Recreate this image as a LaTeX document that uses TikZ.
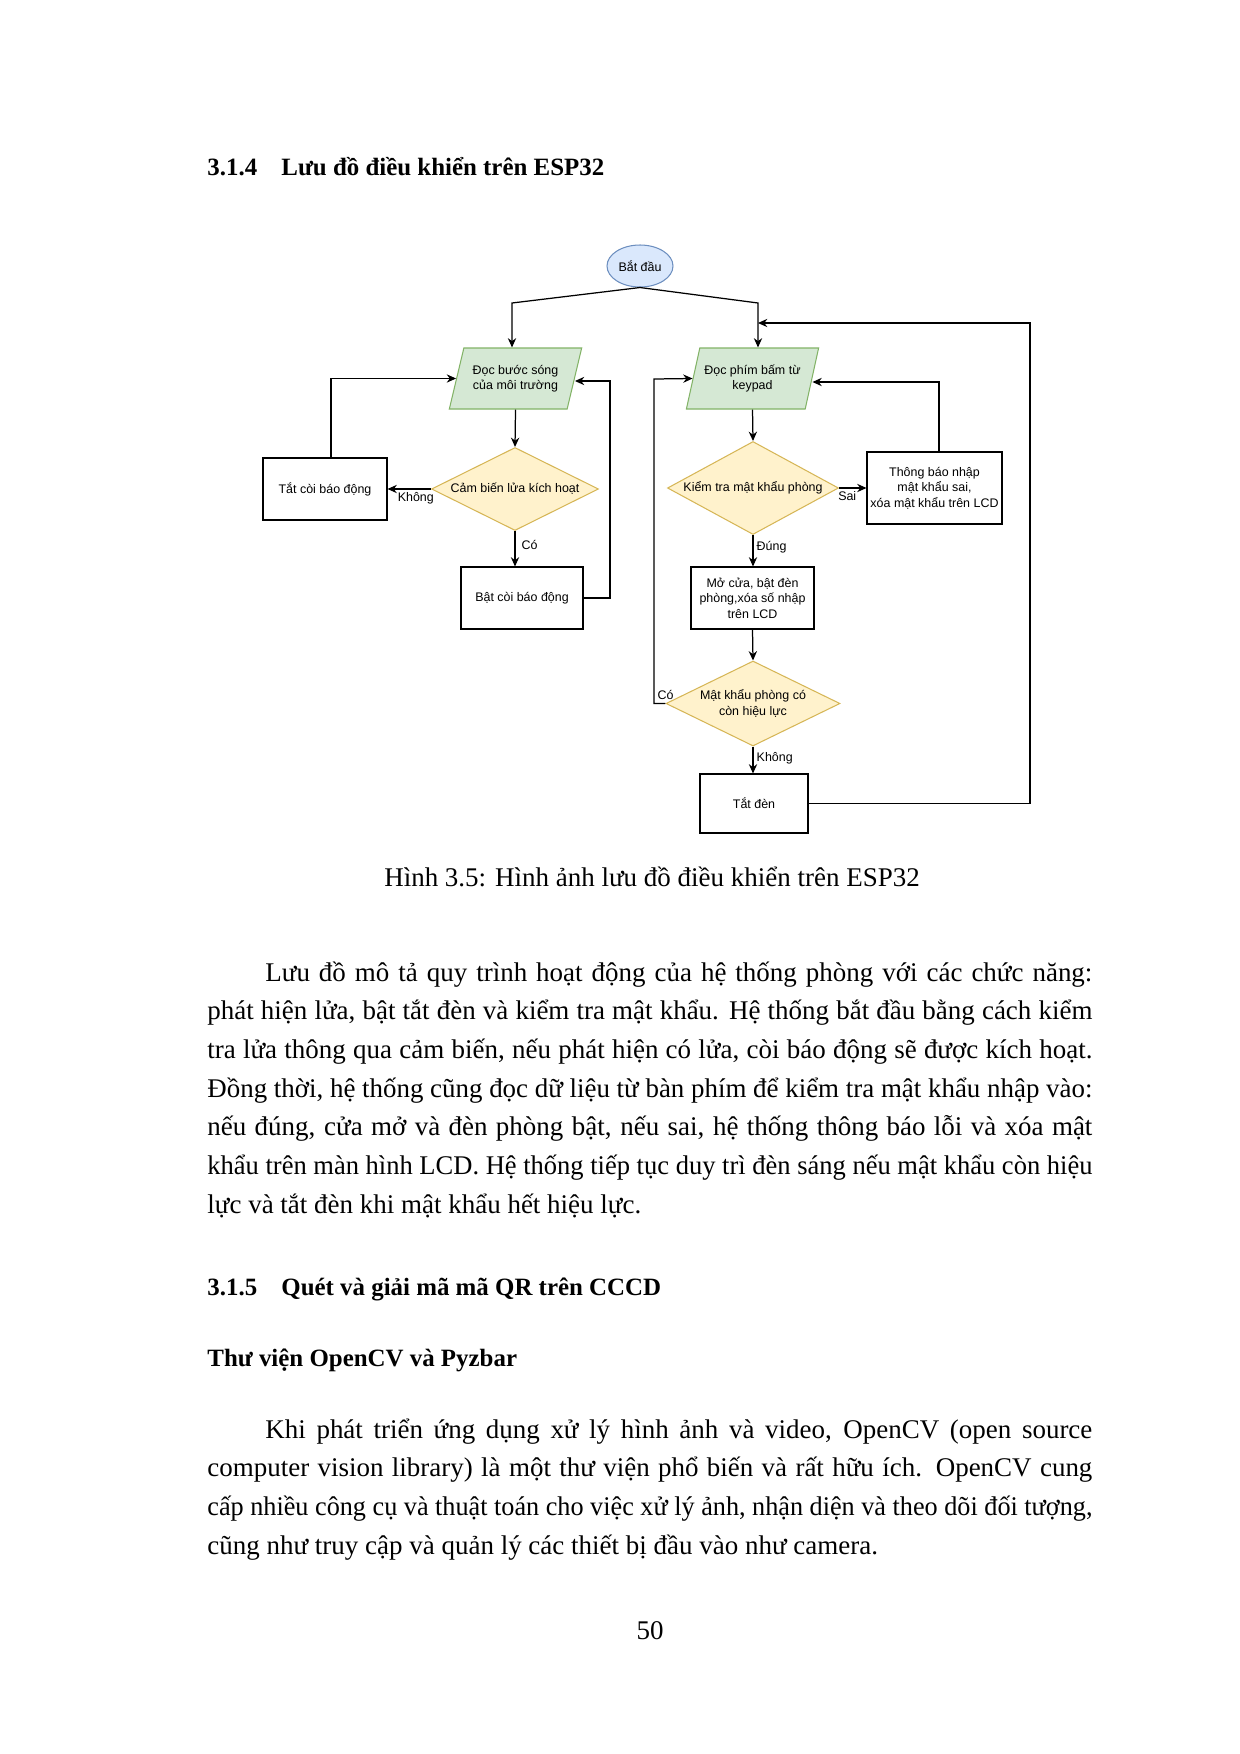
\documentclass[tikz,border=0pt]{standalone}
\usepackage{fontspec}
\usepackage{graphicx}
\setmainfont{Liberation Serif}
\newfontfamily\flowfont{Liberation Sans}
\usetikzlibrary{shapes.geometric,arrows.meta,positioning}
\definecolor{StartFill}{HTML}{DAE8FC}
\definecolor{StartLine}{HTML}{6C8EBF}
\definecolor{IoFill}{HTML}{D5E8D4}
\definecolor{IoLine}{HTML}{82B366}
\definecolor{AskFill}{HTML}{FFF2CC}
\definecolor{AskLine}{HTML}{D6B656}
\newlength\pxu
\setlength\pxu{0.16935mm}
\newsavebox\linebox
\newcommand\jline[2]{\sbox\linebox{#2}%
  \ifdim\wd\linebox>#1\pxu\resizebox{#1\pxu}{\ht\linebox}{\usebox\linebox}%
  \else\makebox[#1\pxu][s]{#2}\fi}

\begin{document}
\begin{tikzpicture}[x=0.16935mm,y=-0.16935mm,>={Stealth[length=4.5pt,width=4pt]},
  flow/.style={font=\flowfont\fontsize{6}{7.4}\selectfont,align=center,inner sep=0pt,line width=0.5pt},
  startbox/.style={flow,ellipse,draw=StartLine,fill=StartFill,minimum width=66\pxu,minimum height=42\pxu},
  iobox/.style={flow,trapezium,trapezium left angle=66,trapezium right angle=114,
    trapezium stretches=true,draw=IoLine,fill=IoFill,minimum width=133\pxu,minimum height=61\pxu},
  askbox/.style={flow,diamond,draw=AskLine,fill=AskFill},
  actbox/.style={flow,rectangle,draw=black},
  link/.style={->,line width=0.6pt},
  lbl/.style={font=\flowfont\fontsize{6}{7.4}\selectfont,inner sep=1.5pt},
  body/.style={anchor=base west,inner sep=0pt,font=\fontsize{13}{15}\selectfont},
  head/.style={anchor=base west,inner sep=0pt,font=\bfseries\fontsize{12}{15}\selectfont}]
  \useasboundingbox[fill=white] (0,0) rectangle (1240,1754);

  \node[head] (h1) at (207,175) {\makebox[74\pxu][l]{3.1.4}Lưu đồ điều khiển trên ESP32};

  % luu do
  \node[startbox] (start) at (640,266) {Bắt đầu};
  \node[iobox] (read) at (515.5,378.5) {Đọc bước sóng\\của môi trường};
  \node[iobox] (kp) at (752.5,378.5) {Đọc phím bấm từ\\keypad};
  \node[askbox,aspect=2,minimum width=167\pxu,minimum height=83\pxu] (fire) at (515,489) {Cảm biến lửa kích hoạt};
  \node[actbox,minimum width=124\pxu,minimum height=62\pxu] (alarmoff) at (325,489) {Tắt còi báo động};
  \node[actbox,minimum width=122\pxu,minimum height=62\pxu] (alarmon) at (522,598) {Bật còi báo động};
  \node[askbox,aspect=1.85,minimum width=171\pxu,minimum height=93\pxu] (check) at (753,488) {Kiểm tra mật khẩu phòng};
  \node[actbox,minimum width=135\pxu,minimum height=72\pxu] (wrong) at (934.5,488) {Thông báo nhập\\mật khẩu sai,\\xóa mật khẩu trên LCD};
  \node[actbox,minimum width=123\pxu,minimum height=62\pxu] (open) at (752.5,598) {Mở cửa, bật đèn\\phòng,xóa số nhập\\trên LCD};
  \node[askbox,aspect=2.05,minimum width=174\pxu,minimum height=85\pxu] (valid) at (753,703.5) {Mật khẩu phòng có\\còn hiệu lực};
  \node[actbox,minimum width=108\pxu,minimum height=59\pxu] (off) at (754,803.5) {Tắt đèn};

  \coordinate (jl) at (512,303);
  \coordinate (jr) at (758,303);
  \coordinate (rb) at (1030,323);
  \coordinate (rf) at (610,381);
  \coordinate (lc) at (654,379);
  \coordinate (wt) at (939,382);

  \draw[link] (start.south) -- (jl) -- (jl |- read.north);
  \draw[link] (start.south) -- (jr) -- (jr |- kp.north);
  \draw[link] (read.south) -- (fire.north);
  \draw[link] (fire.west) -- (alarmoff.east) node[lbl,below,pos=0.35] {Không};
  \draw[link] (fire.south) -- (fire.south |- alarmon.north) node[lbl,right,pos=0.4,xshift=3\pxu] {Có};
  \draw[link] ([xshift=6\pxu]alarmoff.north) |- (read.west);
  \draw[link] (alarmon.east) -| (rf) -- (rf -| read.east);
  \draw[link] (kp.south) -- (check.north);
  \draw[link] (check.east) -- (wrong.west) node[lbl,below,pos=0.3] {Sai};
  \draw[link] (wrong.north -| wt) -- (wt) -- (wt -| kp.east);
  \draw[link] (check.south) -- (check.south |- open.north) node[lbl,right,pos=0.4] {Đúng};
  \draw[link] (open.south) -- (valid.north);
  \draw[link] (valid.west) -| (lc) node[lbl,pos=0.5,above right] {Có} -- (kp.west);
  \draw[link] (valid.south) -- (valid.south |- off.north) node[lbl,right,pos=0.45] {Không};
  \draw[link] (off.east) -| (rb) -- (jr |- rb);

  \node[anchor=base,inner sep=0pt,font=\fontsize{13}{15}\selectfont] (cap) at (652,886)
    {Hình 3.5: Hình ảnh lưu đồ điều khiển trên ESP32};

  % doan van
  \node[body] (p1a) at (265,981) {\jline{827}{Lưu đồ mô tả quy trình hoạt động của hệ thống phòng với các chức năng:}};
  \node[body] (p1b) at (207,1019.7) {\jline{885}{phát hiện lửa, bật tắt đèn và kiểm tra mật khẩu. Hệ thống bắt đầu bằng cách kiểm}};
  \node[body] (p1c) at (207,1058.4) {\jline{885}{tra lửa thông qua cảm biến, nếu phát hiện có lửa, còi báo động sẽ được kích hoạt.}};
  \node[body] (p1d) at (207,1097.1) {\jline{885}{Đồng thời, hệ thống cũng đọc dữ liệu từ bàn phím để kiểm tra mật khẩu nhập vào:}};
  \node[body] (p1e) at (207,1135.8) {\jline{885}{nếu đúng, cửa mở và đèn phòng bật, nếu sai, hệ thống thông báo lỗi và xóa mật}};
  \node[body] (p1f) at (207,1174.5) {\jline{885}{khẩu trên màn hình LCD. Hệ thống tiếp tục duy trì đèn sáng nếu mật khẩu còn hiệu}};
  \node[body] (p1g) at (207,1213.2) {lực và tắt đèn khi mật khẩu hết hiệu lực.};

  \node[head] (h2) at (207,1295) {\makebox[74\pxu][l]{3.1.5}Quét và giải mã mã QR trên CCCD};
  \node[head] (h3) at (207,1366) {Thư viện OpenCV và Pyzbar};

  \node[body] (p2a) at (265,1438) {\jline{827}{Khi phát triển ứng dụng xử lý hình ảnh và video, OpenCV (open source}};
  \node[body] (p2b) at (207,1476.7) {\jline{885}{computer vision library) là một thư viện phổ biến và rất hữu ích. OpenCV cung}};
  \node[body] (p2c) at (207,1515.4) {\jline{885}{cấp nhiều công cụ và thuật toán cho việc xử lý ảnh, nhận diện và theo dõi đối tượng,}};
  \node[body] (p2d) at (207,1554.1) {cũng như truy cập và quản lý các thiết bị đầu vào như camera.};

  \node[anchor=base,inner sep=0pt,font=\fontsize{13}{15}\selectfont] (pg) at (650,1639) {50};
\end{tikzpicture}
\end{document}
